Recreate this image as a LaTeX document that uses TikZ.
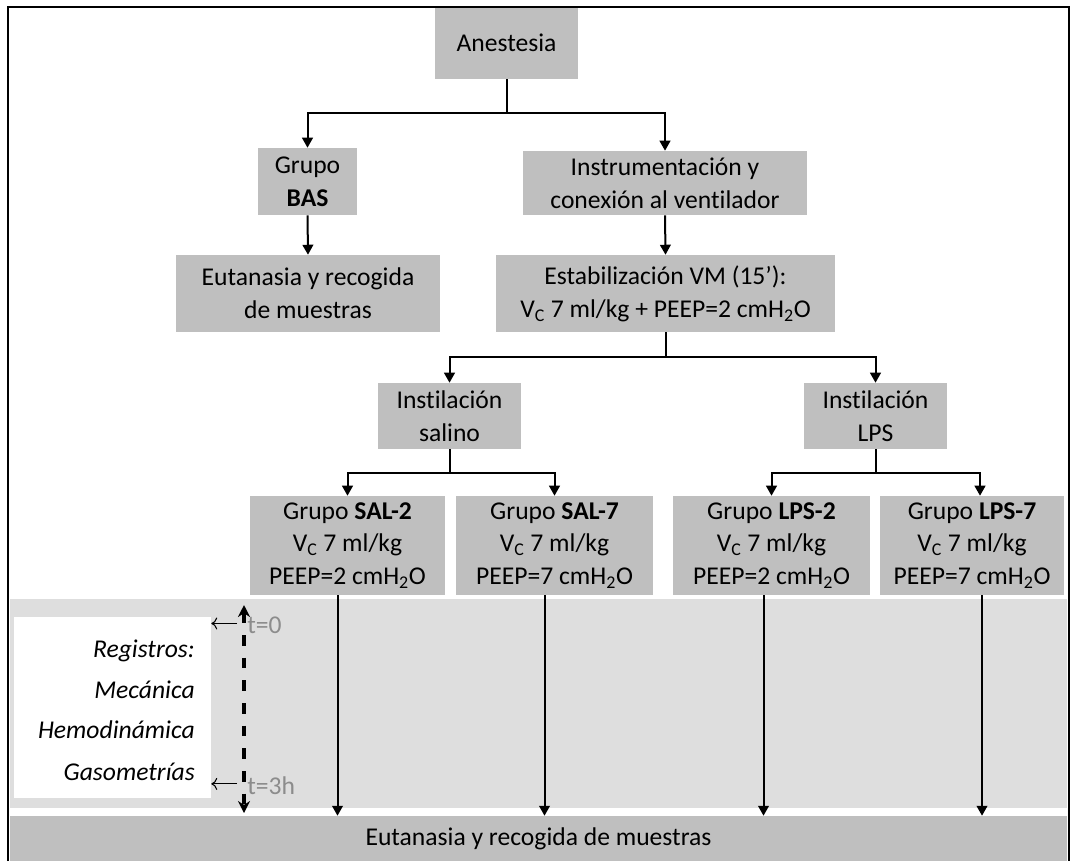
\documentclass[tikz,border=0pt]{standalone}
\usepackage{fontspec}
\setmainfont{Carlito}[Ligatures={NoCommon,NoContextual}]
\usetikzlibrary{arrows.meta,positioning}
\definecolor{boxgray}{RGB}{191,191,191}
\definecolor{bandgray}{RGB}{222,222,222}
\definecolor{tgray}{RGB}{140,140,140}
\tikzstyle{every node}+=[inner sep=0pt,font=\fontsize{19.2}{24.5}\selectfont]
\tikzstyle{box}=[fill=boxgray,align=center]
\tikzstyle{link}=[line width=1.5pt,-{Triangle[width=8pt,length=7.5pt]}]
\tikzstyle{timeline}=[line width=2.4pt,dash pattern=on 8pt off 9pt,{Stealth[width=9pt,length=9pt]}-{Stealth[width=9pt,length=9pt]}]
\tikzstyle{tick}=[line width=0.8pt,-{To[length=4.5pt,width=9pt]}]
\tikzstyle{reg}=[anchor=base east,font=\fontsize{19.2}{24.5}\selectfont\itshape]
\tikzstyle{tlabel}=[anchor=base west,text=tgray]

\begin{document}
\begin{tikzpicture}[x=0.75pt,y=-0.75pt]
\useasboundingbox (0,0) rectangle (1073,861);

\fill[bandgray] (10,599) rectangle (1067,808);
\node[fill=white,minimum width=147.75pt,minimum height=135.75pt] (regbox) at (112.5,707.5) {};

\node[box,minimum width=107.25pt,minimum height=54pt] (anest) at (506.5,43) {Anestesia};
\node[box,minimum width=74.25pt,minimum height=50.25pt] (bas) at (307.5,181.5) {Grupo\\\textbf{BAS}};
\node[box,minimum width=213pt,minimum height=48pt] (instr) at (665,183) {Instrumentación y\\conexión al ventilador};
\node[box,minimum width=198pt,minimum height=57.75pt] (eutbas) at (308,293.5) {Eutanasia y recogida\\de muestras};
\node[box,minimum width=254.25pt,minimum height=57.75pt] (estab) at (665.5,293.5) {Estabilización VM (15’):\\V\textsubscript{C} 7 ml/kg + PEEP=2 cmH\textsubscript{2}O};
\node[box,minimum width=107.25pt,minimum height=49.5pt] (isal) at (449.5,416) {Instilación\\salino};
\node[box,minimum width=107.25pt,minimum height=49.5pt] (ilps) at (875.5,416) {Instilación\\LPS};

\node[box,minimum width=146.25pt,minimum height=74.25pt] (sal2) at (347.5,545.5) {Grupo \textbf{SAL-2}\\V\textsubscript{C} 7 ml/kg\\PEEP=2 cmH\textsubscript{2}O};
\node[box,minimum width=147.75pt,minimum height=74.25pt] (sal7) at (554.5,545.5) {Grupo \textbf{SAL-7}\\V\textsubscript{C} 7 ml/kg\\PEEP=7 cmH\textsubscript{2}O};
\node[box,minimum width=147.75pt,minimum height=74.25pt] (lps2) at (771.5,545.5) {Grupo \textbf{LPS-2}\\V\textsubscript{C} 7 ml/kg\\PEEP=2 cmH\textsubscript{2}O};
\node[box,minimum width=138pt,minimum height=74.25pt] (lps7) at (972,545.5) {Grupo \textbf{LPS-7}\\V\textsubscript{C} 7 ml/kg\\PEEP=7 cmH\textsubscript{2}O};

\node[box,minimum width=792.75pt,minimum height=33.75pt] (eut) at (538.5,838.5) {Eutanasia y recogida de muestras};

\node[reg] (r1) at (195,657) {Registros:};
\node[reg] (r2) at (195,698) {Mecánica};
\node[reg] (r3) at (195,738) {Hemodinámica};
\node[reg] (r4) at (195,780) {Gasometrías};

\node[tlabel] (t0) at (247,633) {t=0};
\node[tlabel] (t3) at (247,794) {t=3h};

\draw[link] (anest.south) -- ++(0,34) -| (bas.north);
\draw[link] (anest.south) -- ++(0,34) -| (instr.north);
\draw[link] (bas.south) -- (eutbas.north);
\draw[link] (instr.south) -- (estab.north);
\draw[link] (estab.south) -- ++(0,25) -| (isal.north);
\draw[link] (estab.south) -- ++(0,25) -| (ilps.north);
\draw[link] (isal.south) -- ++(0,24) -| (sal2.north);
\draw[link] (isal.south) -- ++(0,24) -| (sal7.north);
\draw[link] (ilps.south) -- ++(0,24) -| (lps2.north);
\draw[link] (ilps.south) -- ++(0,24) -| ([xshift=6pt]lps7.north);

\draw[link] ([xshift=-7.5pt]sal2.south) -- ([xshift=-7.5pt]sal2.south |- eut.north);
\draw[link] ([xshift=-7.5pt]sal7.south) -- ([xshift=-7.5pt]sal7.south |- eut.north);
\draw[link] ([xshift=-6pt]lps2.south) -- ([xshift=-6pt]lps2.south |- eut.north);
\draw[link] ([xshift=7.5pt]lps7.south) -- ([xshift=7.5pt]lps7.south |- eut.north);

\coordinate (ttop) at (244,605);
\coordinate (tbot) at (244,813);
\draw[timeline] (ttop) -- (tbot);
\draw[tick] ([xshift=-7.5pt,yshift=1pt]t0.west) -- ([yshift=1pt]t0.west -| regbox.east);
\draw[tick] ([xshift=-7.5pt,yshift=1pt]t3.west) -- ([yshift=1pt]t3.west -| regbox.east);

\draw[line width=1.5pt] (8,861) -- (8,7) -- (1069,7) -- (1069,861);
\end{tikzpicture}
\end{document}
